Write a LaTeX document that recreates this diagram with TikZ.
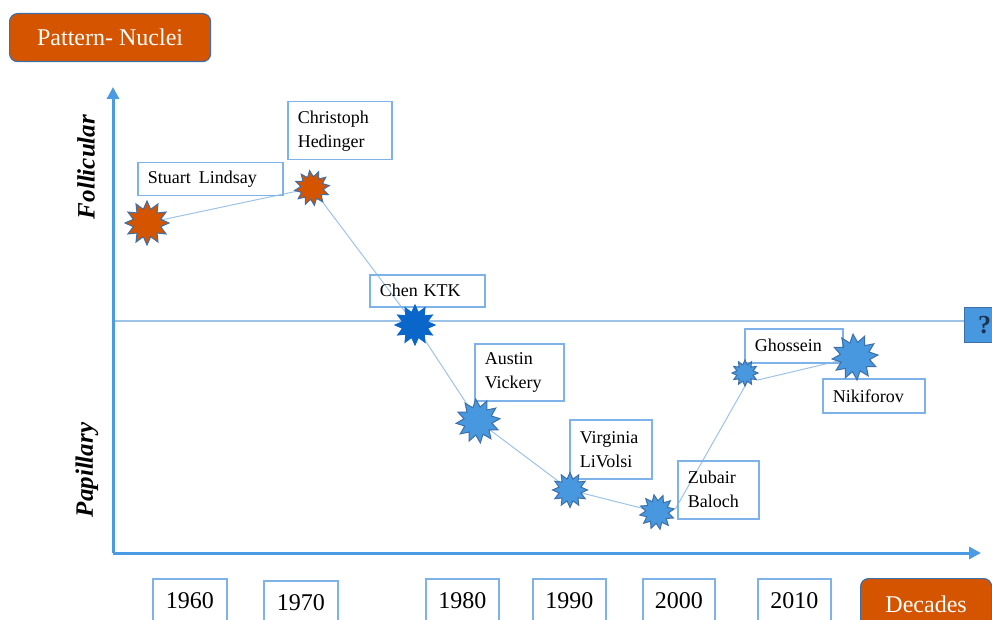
\documentclass[tikz,border=0pt]{standalone}
\usepackage{fontspec}
\setmainfont{Liberation Serif}
\usetikzlibrary{shapes.geometric,arrows.meta,backgrounds}
\definecolor{orng}{HTML}{D55400}
\definecolor{axblue}{HTML}{4A9BE3}
\definecolor{lnblue}{HTML}{9DC3E6}
\definecolor{bxblue}{HTML}{7DB3E8}
\definecolor{stblue}{HTML}{4898E0}
\definecolor{stdark}{HTML}{0A66C8}
\definecolor{stedge}{HTML}{3D6FA8}
\definecolor{qtext}{HTML}{1F3350}
\begin{document}
\begin{tikzpicture}[x=1pt,y=-1pt,
  lblbox/.style={draw=bxblue,line width=1.5pt,anchor=north west,align=left,
     inner xsep=10pt,inner ysep=0pt,font=\fontsize{18}{24}\selectfont},
  yearbox/.style={draw=bxblue,line width=1.5pt,anchor=north west,align=center,
     inner sep=0pt,minimum height=44pt,font=\fontsize{24}{28}\selectfont},
  orbox/.style={fill=orng,draw=stedge,line width=1.2pt,rounded corners=8pt,
     anchor=north west,inner sep=0pt,text=white,font=\fontsize{24}{28}\selectfont},
  burst/.style={star,star points=12,star point ratio=1.55,draw=stedge,
     line width=1pt,inner sep=0pt,minimum size=#1},
  orstar/.style={burst=#1,fill=orng},
  blstar/.style={burst=#1,fill=stblue},
  conn/.style={draw=lnblue,line width=1pt},
  axis/.style={draw=axblue,line width=3pt,-{Triangle[length=12pt,width=12pt]}},
  axlbl/.style={rotate=90,font=\fontsize{25}{28}\selectfont\bfseries\itshape}
]
\useasboundingbox (0,0) rectangle (992,620);
\clip (0,0) rectangle (992,620);

% title
\node[orbox,minimum width=201pt,minimum height=48pt] (title) at (9,13) {Pattern- Nuclei};

% axes
\coordinate (O) at (113,553);
\coordinate (ytop) at (113,87);
\coordinate (xend) at (981,553);
\draw[axis] (O) -- (ytop);
\draw[axis] (O) -- (xend);
\node[axlbl] (foll) at (86,167) {Follicular};
\node[axlbl] (pap) at (87,470) {Papillary};

% question box
\node[fill=stblue,draw=stedge,line width=1.2pt,anchor=north west,minimum width=40pt,
  minimum height=35pt,inner sep=0pt,text=qtext,font=\fontsize{26}{28}\selectfont\bfseries] (q) at (964,307) {?};
\coordinate (hl) at (113,321);

% label boxes
\node[lblbox,text width=125pt,minimum height=33pt] (bstuart) at (137,162) {Stuart\hspace{0.45em}Lindsay};
\node[lblbox,text width=84pt,minimum height=58pt] (bhed) at (287,101) {Christoph\\Hedinger};
\node[lblbox,text width=95pt,minimum height=32pt] (bchen) at (369,274) {Chen KTK};
\node[lblbox,text width=69pt,minimum height=57pt] (baus) at (474,343) {Austin\\Vickery};
\node[lblbox,text width=62pt,minimum height=59pt] (bvir) at (569,419) {Virginia\\LiVolsi};
\node[lblbox,text width=61pt,minimum height=58pt] (bzub) at (677,460) {Zubair\\Baloch};
\node[lblbox,text width=78pt,minimum height=34pt] (bgho) at (744,328) {Ghossein};
\node[lblbox,text width=82pt,minimum height=34pt] (bnik) at (822,378) {Nikiforov};

% stars
\node[orstar=44pt] (sstuart) at (147,223) {};
\node[orstar=35pt,rotate=8] (shed) at (312,188) {};
\node[burst=40pt,fill=stdark,draw=stdark] (schen) at (415,325) {};
\node[blstar=44pt,rotate=6] (saus) at (478,421) {};
\node[blstar=35pt] (svir) at (570,490) {};
\node[blstar=35pt,rotate=10] (szub) at (657,512) {};
\node[blstar=26pt] (sgho) at (745,373) {};
\node[blstar=46pt,rotate=5] (snik) at (855,357) {};

% connectors
\begin{pgfonlayer}{background}
\draw[draw=lnblue,line width=1.2pt] (hl) -- (hl -| q.west);
\draw[conn] (sstuart.center) -- (shed.center);
\draw[conn] (shed.center) -- (schen.center);
\draw[conn] (schen.center) -- (saus.center);
\draw[conn] (saus.center) -- (svir.center);
\draw[conn] (svir.center) -- (szub.center);
\draw[conn] (szub.east) -- (sgho.-75);
\draw[conn] (sgho.-30) -- (snik.center);
\end{pgfonlayer}

% decades
\node[yearbox,minimum width=74pt] (y1960) at (152,578) {1960};
\node[yearbox,minimum width=74pt] (y1970) at (263,580) {1970};
\node[yearbox,minimum width=73pt] (y1980) at (425,578) {1980};
\node[yearbox,minimum width=73pt] (y1990) at (532,578) {1990};
\node[yearbox,minimum width=72pt] (y2000) at (642,578) {2000};
\node[yearbox,minimum width=73pt] (y2010) at (757,578) {2010};
\node[orbox,minimum width=131pt,minimum height=52pt] (dec) at (860,578) {Decades};
\end{tikzpicture}
\end{document}
